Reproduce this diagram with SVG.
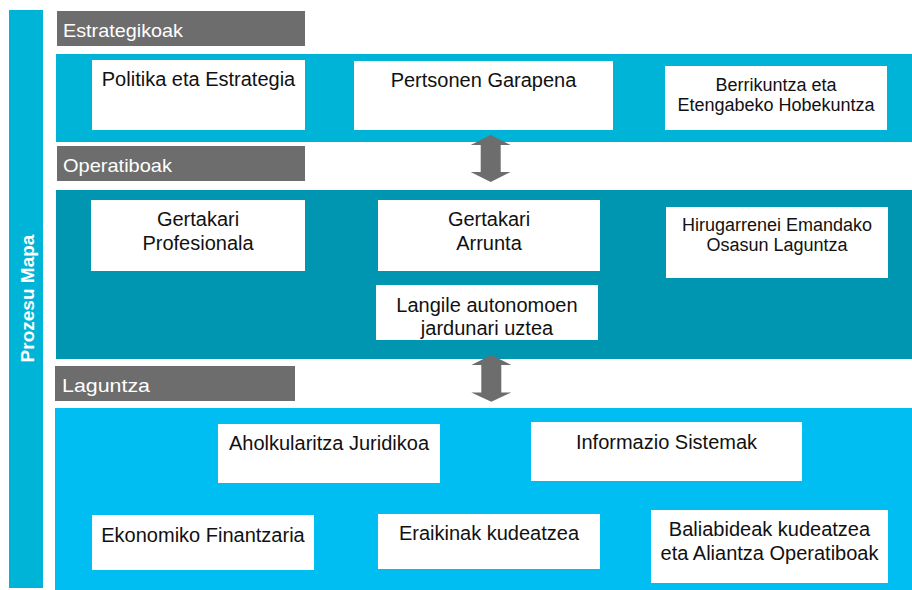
<svg xmlns="http://www.w3.org/2000/svg" width="912" height="590" viewBox="0 0 912 590">
<style>
.bg{fill:#ffffff}
.side{fill:#00B4D8}
.strat{fill:#00B4D8}
.oper{fill:#0095B0}
.supp{fill:#00BEF2}
.hdr{fill:#6D6D6D}
.hdrtxt{font-family:"Liberation Sans",Arial,sans-serif;font-size:19px;fill:#ffffff}
.box{fill:#ffffff}
.t{font-family:"Liberation Sans",Arial,sans-serif;font-size:20px;fill:#111111;text-anchor:middle}
.ts{font-family:"Liberation Sans",Arial,sans-serif;font-size:18px;fill:#111111;text-anchor:middle}
.title{font-family:"Liberation Sans",Arial,sans-serif;font-size:19px;font-weight:bold;fill:#ffffff;text-anchor:middle}
.arrow{fill:#6D6D6D}
</style>
<rect class="bg" x="0" y="0" width="912" height="590"/>

<g id="side-bar">
<rect class="side" x="9" y="10" width="34" height="578"/>
<text class="title" transform="translate(33.5,298.5) rotate(-90)" x="0" y="0">Prozesu Mapa</text>
</g>

<g id="band-strategic">
<rect class="strat" x="56" y="54" width="856" height="88"/>
</g>
<g id="band-operational">
<rect class="oper" x="56" y="190" width="856" height="169"/>
</g>
<g id="band-support">
<rect class="supp" x="55" y="408" width="857" height="182"/>
</g>

<g id="hdr-estrategikoak">
<rect class="hdr" x="57" y="11" width="248" height="35"/>
<text class="hdrtxt" x="63" y="36.5" textLength="120" lengthAdjust="spacingAndGlyphs">Estrategikoak</text>
</g>
<g id="hdr-operatiboak">
<rect class="hdr" x="57" y="146" width="248" height="35"/>
<text class="hdrtxt" x="63" y="172" textLength="109" lengthAdjust="spacingAndGlyphs">Operatiboak</text>
</g>
<g id="hdr-laguntza">
<rect class="hdr" x="55" y="366" width="240" height="35"/>
<text class="hdrtxt" x="62" y="391.5" textLength="88" lengthAdjust="spacingAndGlyphs" style="font-weight:300">Laguntza</text>
</g>

<g id="connectors">
<polygon class="arrow" points="490.7,135 510.7,145 500.7,145 500.7,172 510.7,172 490.7,182 470.7,172 480.7,172 480.7,145 470.7,145"/>
<polygon class="arrow" points="491.3,355 511.3,365 501.3,365 501.3,392.5 511.3,392.5 491.3,401.7 471.3,392.5 481.3,392.5 481.3,365 471.3,365"/>
</g>

<g id="node-politika">
<rect class="box" x="92" y="60" width="213" height="70"/>
<text class="t" x="198.5" y="85.5">Politika eta Estrategia</text>
</g>
<g id="node-pertsonen">
<rect class="box" x="354" y="61" width="259" height="69"/>
<text class="t" x="483.5" y="87">Pertsonen Garapena</text>
</g>
<g id="node-berrikuntza">
<rect class="box" x="665" y="66" width="222" height="64"/>
<text class="ts" x="776" y="91">Berrikuntza eta</text>
<text class="ts" x="776" y="110.5">Etengabeko Hobekuntza</text>
</g>

<g id="node-gertakari-profesionala">
<rect class="box" x="91" y="200" width="214" height="71"/>
<text class="t" x="198" y="226">Gertakari</text>
<text class="t" x="198" y="250">Profesionala</text>
</g>
<g id="node-gertakari-arrunta">
<rect class="box" x="378" y="200" width="222" height="71"/>
<text class="t" x="489" y="226">Gertakari</text>
<text class="t" x="489" y="250">Arrunta</text>
</g>
<g id="node-langile">
<rect class="box" x="376" y="285" width="222" height="55"/>
<text class="t" x="487" y="311.5">Langile autonomoen</text>
<text class="t" x="487" y="335">jardunari uztea</text>
</g>
<g id="node-hirugarrenei">
<rect class="box" x="666" y="207" width="222" height="71"/>
<text class="ts" x="777" y="231">Hirugarrenei Emandako</text>
<text class="ts" x="777" y="251">Osasun Laguntza</text>
</g>

<g id="node-aholkularitza">
<rect class="box" x="218" y="424" width="222" height="59"/>
<text class="t" x="329" y="450">Aholkularitza Juridikoa</text>
</g>
<g id="node-informazio">
<rect class="box" x="531" y="422" width="271" height="59"/>
<text class="t" x="666.5" y="448.5">Informazio Sistemak</text>
</g>
<g id="node-ekonomiko">
<rect class="box" x="92" y="515" width="222" height="55"/>
<text class="t" x="203" y="542">Ekonomiko Finantzaria</text>
</g>
<g id="node-eraikinak">
<rect class="box" x="378" y="514" width="222" height="55"/>
<text class="t" x="489" y="540">Eraikinak kudeatzea</text>
</g>
<g id="node-baliabideak">
<rect class="box" x="651" y="510" width="237" height="73"/>
<text class="t" x="769.5" y="536">Baliabideak kudeatzea</text>
<text class="t" x="769.5" y="560">eta Aliantza Operatiboak</text>
</g>
</svg>
